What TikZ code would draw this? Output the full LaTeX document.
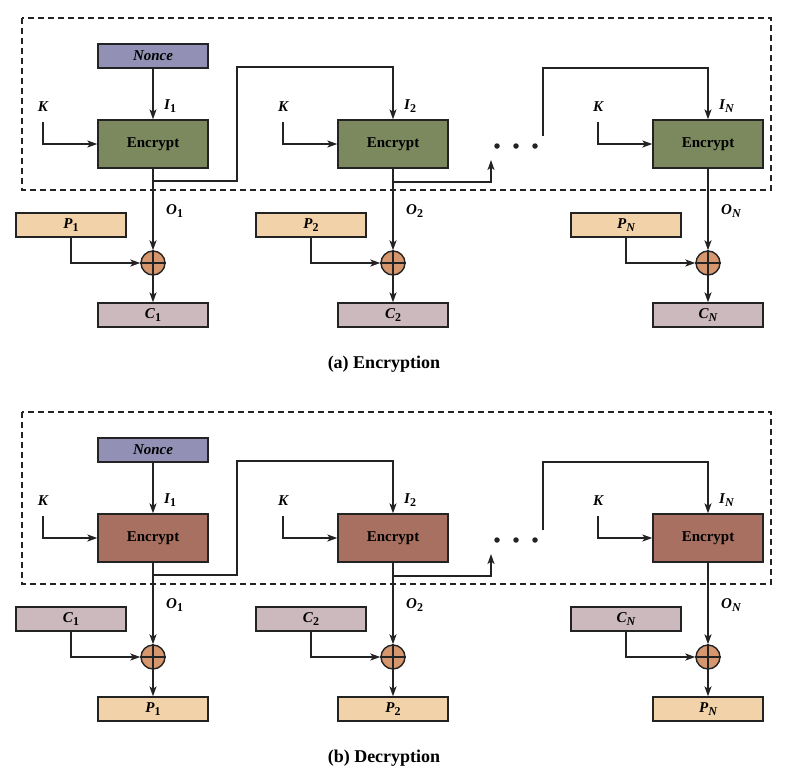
\documentclass[tikz,border=0pt]{standalone}
\usepackage{fontspec}
\setmainfont{Liberation Serif}
\usetikzlibrary{arrows.meta}
\definecolor{noncecol}{RGB}{146,144,180}
\definecolor{greencol}{RGB}{124,136,94}
\definecolor{browncol}{RGB}{168,112,96}
\definecolor{tancol}{RGB}{242,210,168}
\definecolor{mauvecol}{RGB}{203,185,190}
\definecolor{xorcol}{RGB}{214,150,110}
\definecolor{linecol}{RGB}{35,35,35}
\tikzset{
  conn/.style={draw=linecol, line width=1.4pt},
  arr/.style={conn, -{Stealth[length=10pt,width=7pt,inset=2.5pt]}},
  dashbox/.style={draw=linecol, line width=1.4pt, dash pattern=on 6pt off 4pt},
  smallbox/.style={draw=linecol, line width=1.3pt, minimum width=110pt, minimum height=24pt, inner sep=0pt, font=\fontsize{15}{17}\selectfont\bfseries},
  encbox/.style={draw=linecol, line width=1.3pt, minimum width=110pt, minimum height=48pt, inner sep=0pt, font=\fontsize{15}{17}\selectfont\bfseries},
  xorc/.style={circle, draw=linecol, line width=1.4pt, fill=xorcol, minimum size=24pt, inner sep=0pt},
  lbl/.style={inner sep=0pt, font=\fontsize{15}{17}\selectfont\bfseries\itshape},
  captext/.style={inner sep=0pt, font=\fontsize{18}{20}\selectfont\bfseries},
  dotn/.style={circle, fill=linecol, minimum size=5.5pt, inner sep=0pt}
}
\newcommand{\lab}[2]{#1\raisebox{-0.35ex}{\fontsize{12}{13}\selectfont #2}}
\newcommand{\drawpanel}[6]{%
  \draw[dashbox] (22,18) rectangle (771,190);
  \node[smallbox, fill=noncecol] (nonce) at (153,56) {\textit{Nonce}};
  \node[encbox, fill=#1] (e1) at (153,144) {Encrypt};
  \node[encbox, fill=#1] (e2) at (393,144) {Encrypt};
  \node[encbox, fill=#1] (eN) at (708,144) {Encrypt};
  \node[lbl] (k1) at (43,107) {K};
  \node[lbl] (k2) at (283,107) {K};
  \node[lbl] (kN) at (598,107) {K};
  \coordinate (k1s) at (43,122);
  \coordinate (k2s) at (283,122);
  \coordinate (kNs) at (598,122);
  \draw[arr] (k1s) |- (e1.west);
  \draw[arr] (k2s) |- (e2.west);
  \draw[arr] (kNs) |- (eN.west);
  \draw[arr] (nonce) -- (e1);
  \node[lbl, anchor=west] (i1) at (164,106) {\lab{I}{\upshape 1}};
  \node[lbl, anchor=west] (i2) at (404,106) {\lab{I}{\upshape 2}};
  \node[lbl, anchor=west] (iN) at (719,106) {\lab{I}{N}};
  % chain
  \coordinate (b1) at (153,181);
  \coordinate (c1) at (237,181);
  \coordinate (d1) at (237,67);
  \coordinate (f1) at (393,67);
  \draw[arr] (b1) -- (c1) -- (d1) -- (f1) -- (e2.north);
  \coordinate (b2) at (393,182);
  \coordinate (c2) at (491,182);
  \coordinate (t2) at (491,160);
  \draw[arr] (b2) -- (c2) -- (t2);
  \node[dotn] (dot1) at (497,146) {};
  \node[dotn] (dot2) at (516,146) {};
  \node[dotn] (dot3) at (535,146) {};
  \coordinate (s3) at (543,136);
  \coordinate (u3) at (543,68);
  \coordinate (f3) at (708,68);
  \draw[arr] (s3) -- (u3) -- (f3) -- (eN.north);
  % xor
  \node[xorc] (x1) at (153,263) {};
  \node[xorc] (x2) at (393,263) {};
  \node[xorc] (xN) at (708,263) {};
  \foreach \x in {x1,x2,xN}{
    \draw[conn] (\x.north) -- (\x.south);
    \draw[conn] (\x.west) -- (\x.east);
  }
  \draw[arr] (e1) -- (x1);
  \draw[arr] (e2) -- (x2);
  \draw[arr] (eN) -- (xN);
  \node[lbl, anchor=west] (o1) at (166,211) {\lab{O}{\upshape 1}};
  \node[lbl, anchor=west] (o2) at (406,211) {\lab{O}{\upshape 2}};
  \node[lbl, anchor=west] (oN) at (721,211) {\lab{O}{N}};
  % inputs
  \node[smallbox, fill=#2] (p1) at (71,225) {\itshape\lab{#4}{\upshape 1}};
  \node[smallbox, fill=#2] (p2) at (311,225) {\itshape\lab{#4}{\upshape 2}};
  \node[smallbox, fill=#2] (pN) at (626,225) {\itshape\lab{#4}{N}};
  \draw[arr] (p1.south) |- (x1.west);
  \draw[arr] (p2.south) |- (x2.west);
  \draw[arr] (pN.south) |- (xN.west);
  % outputs
  \node[smallbox, fill=#3] (q1) at (153,315) {\itshape\lab{#5}{\upshape 1}};
  \node[smallbox, fill=#3] (q2) at (393,315) {\itshape\lab{#5}{\upshape 2}};
  \node[smallbox, fill=#3] (qN) at (708,315) {\itshape\lab{#5}{N}};
  \draw[arr] (x1) -- (q1);
  \draw[arr] (x2) -- (q2);
  \draw[arr] (xN) -- (qN);
  \node[captext] (caption) at (384,364) {#6};
}
\begin{document}
\begin{tikzpicture}[x=1pt, y=-1pt]
\useasboundingbox (0,0) rectangle (793,772);
\begin{scope}[name prefix=a-]
\drawpanel{greencol}{tancol}{mauvecol}{P}{C}{(a) Encryption}
\end{scope}
\begin{scope}[yshift=-394pt, name prefix=b-]
\drawpanel{browncol}{mauvecol}{tancol}{C}{P}{(b) Decryption}
\end{scope}
\end{tikzpicture}
\end{document}
